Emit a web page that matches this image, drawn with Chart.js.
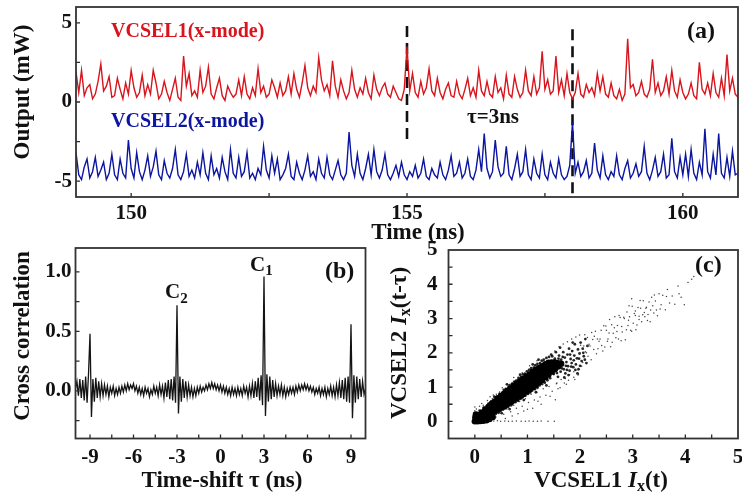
<!DOCTYPE html>
<html>
<head>
<meta charset="utf-8">
<script src="https://cdn.jsdelivr.net/npm/chart.js@4.4.1/dist/chart.umd.min.js"></script>
<style>
  html, body { margin: 0; padding: 0; background: #fff; }
  #fig { position: relative; width: 742px; height: 500px; overflow: hidden; background: #fff; }
  #fig canvas { position: absolute; }
</style>
</head>
<body>
<div id="fig">
  <canvas id="panelA" width="742" height="245" style="left:0px;top:0px"></canvas>
  <canvas id="panelB" width="380" height="260" style="left:0px;top:240px"></canvas>
  <canvas id="panelC" width="362" height="264" style="left:380px;top:236px"></canvas>
</div>
<script>
// ---------- (a) output time series, sampled every 0.05 ns from 149 ns ----------
const T_START = 149;
const T_STEP = 0.05;
const vcsel1 = [
  1.9,0.6,2.0,0.4,0.9,1.1,0.2,0.5,1.3,2.4,0.7,1.0,1.6,0.3,0.4,1.5,0.8,0.2,1.2,0.5,
  2.0,0.9,0.3,0.6,1.7,0.4,1.1,0.5,2.0,1.2,0.2,0.5,1.3,0.6,0.1,0.8,1.5,0.3,0.1,2.9,
  1.0,1.8,0.4,0.7,0.3,2.0,0.6,1.0,2.2,0.5,0.2,0.9,1.5,0.4,0.1,1.0,0.6,0.3,0.5,1.4,
  0.4,1.6,0.5,0.2,0.9,0.4,2.1,0.6,1.0,0.3,0.5,1.4,0.9,0.3,1.2,0.4,0.7,1.6,0.5,1.8,
  0.8,0.3,1.2,2.3,0.9,0.4,1.0,0.6,2.8,1.4,0.7,1.1,0.4,2.6,1.0,0.3,1.4,0.7,0.2,0.6,
  2.0,0.8,0.3,0.9,0.5,1.5,0.6,0.2,1.7,0.8,0.4,0.9,1.2,0.5,0.3,1.0,0.6,0.2,0.1,0.8,
  3.5,0.7,1.8,0.6,0.3,1.3,0.5,0.9,2.1,0.7,0.4,1.5,0.6,0.2,0.8,1.2,0.4,0.3,1.3,0.5,
  0.2,0.8,1.5,0.4,0.9,0.3,2.0,0.7,0.4,1.3,0.5,0.3,1.6,0.6,0.9,0.2,1.7,0.5,0.3,1.6,
  0.8,0.3,0.6,2.0,0.7,0.4,1.6,0.5,0.9,3.2,0.8,1.4,0.5,0.7,2.9,0.6,1.4,0.4,1.8,0.6,
  0.2,0.6,1.8,0.5,0.3,1.1,0.6,0.9,0.4,1.8,0.7,1.6,0.5,0.3,1.2,0.4,0.2,0.8,0.1,0.5,
  4.0,0.9,1.1,0.4,0.6,1.3,0.5,0.3,0.8,2.7,0.6,1.2,0.4,0.7,1.6,0.5,2.0,0.7,0.3,1.4,
  0.6,0.2,0.5,1.2,0.4,0.2,2.5,0.8,0.5,1.2,0.4,1.8,0.6,0.3,1.5,0.4,3.0,0.7,1.5,0.5,
  0.3
];
// VCSEL2 trace is displayed offset by -5 mW
const vcsel2 = [
  -3.2,-4.6,-4.9,-4.1,-3.6,-4.8,-4.4,-3.5,-4.7,-4.3,-3.8,-4.9,-4.5,-3.3,-4.6,-4.9,-3.6,-4.5,-4.8,-2.4,
  -4.2,-4.8,-3.2,-4.4,-4.9,-4.3,-3.4,-4.7,-4.1,-3.1,-4.6,-4.9,-3.7,-4.5,-4.8,-4.2,-3.0,-4.6,-4.9,-4.4,
  -3.3,-4.7,-4.3,-4.8,-3.8,-4.6,-3.2,-4.5,-4.9,-3.4,-4.6,-4.2,-4.8,-3.5,-4.4,-4.9,-3.0,-4.5,-4.8,-3.5,
  -4.7,-4.4,-3.2,-4.8,-4.5,-4.9,-4.2,-4.6,-2.8,-4.3,-4.8,-3.4,-4.5,-3.6,-4.9,-4.6,-4.2,-3.3,-4.7,-4.9,
  -3.8,-4.5,-4.9,-4.3,-3.4,-4.7,-4.4,-4.9,-3.6,-4.5,-4.8,-3.5,-4.6,-4.9,-4.3,-3.7,-4.6,-4.9,-4.5,-1.9,
  -4.0,-4.7,-3.3,-4.5,-4.9,-4.2,-3.3,-4.6,-3.0,-4.4,-4.8,-4.3,-3.3,-4.6,-4.9,-4.5,-4.0,-4.7,-3.8,-4.6,
  -4.9,-4.4,-4.7,-4.0,-4.8,-4.5,-3.6,-4.7,-4.9,-4.2,-4.6,-4.8,-3.8,-4.6,-4.9,-4.3,-3.4,-4.7,-4.5,-3.8,
  -4.8,-4.5,-3.6,-4.7,-4.9,-4.3,-3.0,-4.4,-2.0,-4.2,-4.8,-4.4,-2.4,-4.1,-4.7,-4.5,-2.8,-4.6,-4.9,-4.2,
  -3.3,-4.7,-4.4,-3.0,-4.6,-4.9,-3.6,-4.5,-4.8,-3.3,-4.6,-4.9,-3.8,-4.5,-4.8,-3.6,-4.6,-4.9,-4.7,-4.0,
  -1.3,-4.5,-3.8,-4.7,-4.4,-3.7,-4.8,-4.5,-2.6,-4.3,-4.8,-3.4,-4.6,-4.9,-4.4,-4.7,-3.4,-4.6,-4.9,-4.2,
  -3.7,-4.8,-4.5,-3.9,-4.7,-4.4,-2.8,-4.5,-4.9,-4.3,-3.5,-4.7,-4.4,-3.3,-4.8,-4.6,-2.3,-4.4,-4.8,-3.5,
  -4.6,-3.3,-4.7,-3.0,-4.5,-4.9,-3.8,-4.6,-1.7,-4.4,-4.8,-3.3,-4.6,-2.0,-4.5,-4.8,-3.5,-4.7,-3.1,-4.6,
  -4.5
];
const delayMarks = [155, 158];          // the two instants separated by tau = 3 ns
const timeTicks = [150, 152.5, 155, 157.5, 160];
const timeTickLabels = ['150', '', '155', '', '160'];
const outputTicks = [-5, -2.5, 0, 2.5, 5];
const outputTickLabels = ['-5', '', '0', '', '5'];

// ---------- (b) cross correlation vs time shift, every 0.1 ns from -10 ns ----------
const TAU_START = -10;
const TAU_STEP = 0.1;
const crossCorr = [
  0.02,0.08,-0.04,0.10,-0.06,0.09,-0.08,0.12,-0.10,0.15,
  0.48,-0.22,0.10,-0.09,0.11,-0.06,0.08,-0.05,0.06,-0.04,
  0.05,-0.03,0.04,-0.05,0.03,-0.02,0.04,-0.04,0.02,-0.03,
  0.03,-0.02,0.04,-0.01,0.05,0.00,0.06,0.01,0.05,0.02,
  0.06,0.00,0.04,-0.02,0.03,-0.03,0.02,-0.04,0.03,-0.02,
  0.02,-0.05,0.01,-0.03,0.04,-0.02,0.03,-0.04,0.05,-0.03,
  0.04,-0.06,0.07,-0.05,0.09,-0.07,0.10,-0.08,0.12,-0.10,
  0.72,-0.19,0.12,-0.09,0.10,-0.06,0.08,-0.05,0.05,-0.04,
  0.03,-0.05,0.02,-0.04,0.03,-0.02,0.04,-0.01,0.03,0.00,
  0.05,0.01,0.06,0.02,0.07,0.02,0.06,0.01,0.05,0.00,
  0.05,-0.01,0.04,-0.02,0.03,-0.03,0.02,-0.04,0.03,-0.03,
  0.02,-0.04,0.03,-0.03,0.02,-0.04,0.04,-0.02,0.03,-0.05,
  0.04,-0.04,0.06,-0.06,0.08,-0.05,0.11,-0.08,0.13,-0.12,
  0.96,-0.21,0.14,-0.09,0.12,-0.07,0.09,-0.05,0.06,-0.04,
  0.04,-0.03,0.05,-0.04,0.03,-0.05,0.02,-0.03,0.03,-0.02,
  0.03,-0.03,0.04,-0.01,0.05,0.00,0.05,0.01,0.06,0.01,
  0.05,0.00,0.04,-0.01,0.03,-0.03,0.02,-0.02,0.03,-0.04,
  0.02,-0.03,0.03,-0.05,0.02,-0.03,0.04,-0.04,0.03,-0.05,
  0.05,-0.04,0.07,-0.06,0.09,-0.07,0.11,-0.09,0.12,-0.10,
  0.56,-0.23,0.13,-0.10,0.12,-0.07,0.10,-0.05,0.08,-0.03,
  0.02
];
const shiftTicks = [-9, -7.5, -6, -4.5, -3, -1.5, 0, 1.5, 3, 4.5, 6, 7.5, 9];
const shiftTickLabels = ['-9', '', '-6', '', '-3', '', '0', '', '3', '', '6', '', '9'];
const corrTicks = [-0.25, 0, 0.25, 0.5, 0.75, 1.0];
const corrTickLabels = ['', '0.0', '', '0.5', '', '1.0'];

// ---------- (c) VCSEL1 Ix(t) vs VCSEL2 Ix(t - tau) ----------
// densest part of the cloud
const scatterCore = [
  [0.00,0.00],[0.05,0.00],[0.10,0.01],[0.16,0.02],[0.22,0.03],[0.28,0.07],[0.34,0.13],[0.01,0.12],[0.02,0.20],
  [0.02,0.02],[0.02,0.05],[0.02,0.08],
  [0.08,0.06],[0.08,0.09],[0.08,0.12],[0.08,0.15],[0.08,0.18],
  [0.14,0.10],[0.14,0.14],[0.14,0.18],[0.14,0.22],[0.14,0.26],
  [0.20,0.15],[0.20,0.20],[0.20,0.25],[0.20,0.30],[0.20,0.35],
  [0.26,0.20],[0.26,0.25],[0.26,0.31],[0.26,0.37],[0.26,0.42],
  [0.32,0.25],[0.32,0.32],[0.32,0.38],[0.32,0.45],[0.32,0.51],
  [0.38,0.30],[0.38,0.37],[0.38,0.44],[0.38,0.51],[0.38,0.58],
  [0.44,0.35],[0.44,0.43],[0.44,0.51],[0.44,0.59],[0.44,0.67],
  [0.50,0.40],[0.50,0.49],[0.50,0.57],[0.50,0.66],[0.50,0.74],
  [0.56,0.45],[0.56,0.54],[0.56,0.63],[0.56,0.72],[0.56,0.81],
  [0.62,0.51],[0.62,0.61],[0.62,0.70],[0.62,0.80],[0.62,0.89],
  [0.68,0.56],[0.68,0.66],[0.68,0.76],[0.68,0.86],[0.68,0.96],
  [0.74,0.62],[0.74,0.73],[0.74,0.83],[0.74,0.94],[0.74,1.04],
  [0.80,0.68],[0.80,0.79],[0.80,0.89],[0.80,1.00],[0.80,1.10],
  [0.86,0.74],[0.86,0.85],[0.86,0.96],[0.86,1.07],[0.86,1.18],
  [0.92,0.80],[0.92,0.91],[0.92,1.02],[0.92,1.13],[0.92,1.24],
  [0.98,0.87],[0.98,0.98],[0.98,1.09],[0.98,1.20],[0.98,1.31],
  [1.04,0.93],[1.04,1.04],[1.04,1.15],[1.04,1.26],[1.04,1.37],
  [1.10,1.00],[1.10,1.11],[1.10,1.22],[1.10,1.33],[1.10,1.44],
  [1.16,1.06],[1.16,1.17],[1.16,1.28],[1.16,1.39],[1.16,1.50],
  [1.22,1.14],[1.22,1.25],[1.22,1.35],[1.22,1.46],[1.22,1.56],
  [1.28,1.21],[1.28,1.31],[1.28,1.41],[1.28,1.51],[1.28,1.61],
  [1.34,1.29],[1.34,1.39],[1.34,1.48],[1.34,1.58],[1.34,1.67],
  [1.40,1.37],[1.40,1.46],[1.40,1.54],[1.40,1.63],[1.40,1.71],
  [1.46,1.45],[1.46,1.55],[1.46,1.64],[1.46,1.72],
  [1.52,1.52],[1.52,1.62],[1.52,1.72],
  [1.58,1.60],[1.58,1.70],
  [1.64,1.68]
];
// fringe of the dense band and its continuation up to about 2
const scatterMid = [
  [0.04,0.24],[0.09,0.31],[0.13,0.29],[0.17,0.40],[0.23,0.45],[0.26,0.52],[0.31,0.58],[0.35,0.60],
  [0.39,0.69],[0.43,0.73],[0.47,0.80],[0.52,0.83],[0.55,0.92],[0.59,0.95],[0.64,0.99],[0.66,1.06],
  [0.71,1.10],[0.75,1.16],[0.79,1.19],[0.83,1.27],[0.88,1.30],[0.91,1.37],[0.95,1.39],[0.99,1.46],
  [1.03,1.50],[1.07,1.55],[1.12,1.57],[1.15,1.64],[1.19,1.68],[1.24,1.70],[1.27,1.77],[1.31,1.80],
  [1.36,1.85],[1.41,1.88],[1.45,1.95],[0.61,1.08],[0.86,1.36],[1.10,1.66],[0.37,0.72],[1.21,1.80],
  [0.18,0.05],[0.24,0.08],[0.29,0.13],[0.34,0.16],[0.40,0.22],[0.45,0.25],[0.49,0.31],[0.54,0.35],
  [0.58,0.38],[0.63,0.42],[0.69,0.47],[0.72,0.53],[0.77,0.56],[0.82,0.60],[0.87,0.66],[0.91,0.70],
  [0.96,0.75],[1.01,0.80],[1.05,0.84],[1.09,0.90],[1.14,0.94],[1.19,0.98],[1.23,1.05],[1.28,1.09],
  [1.33,1.13],[1.38,1.20],[1.43,1.26],[0.66,0.36],[0.93,0.62],[1.16,0.85],[1.36,1.05],[0.51,0.24],
  [1.44,1.45],[1.46,1.72],[1.48,1.58],[1.50,1.38],[1.52,1.83],[1.53,1.62],[1.55,1.50],[1.57,1.74],
  [1.58,1.30],[1.60,1.92],[1.61,1.58],[1.63,1.45],[1.64,1.80],[1.66,1.67],[1.68,2.02],[1.69,1.52],
  [1.71,1.86],[1.72,1.40],[1.74,1.73],[1.76,1.95],[1.77,1.61],[1.79,2.12],[1.80,1.48],[1.82,1.82],
  [1.84,1.70],[1.85,2.05],[1.87,1.58],[1.89,1.92],[1.90,2.25],[1.92,1.66],[1.94,1.84],[1.96,2.10],
  [1.97,1.52],[1.99,1.98],[2.01,2.30],[2.03,1.76],[2.05,2.12],[2.07,1.90],[2.10,2.40],[2.12,1.70],
  [1.47,1.90],[1.54,2.02],[1.62,2.15],[1.70,1.28],[1.78,1.35],[1.86,2.30],[1.95,1.40],[2.14,2.20],
  [1.49,1.49],[1.51,1.77],[1.56,1.41],[1.59,1.83],[1.65,1.55],[1.67,1.88],[1.73,1.62],[1.75,1.50],
  [1.81,1.95],[1.83,1.60],[1.88,1.78],[1.91,1.50],[1.98,1.83],[2.00,1.62],[2.06,2.00],[2.09,1.80]
];
// thin outskirts and the high-intensity tail
const scatterSparse = [
  [2.03,1.61],[2.07,2.20],[2.10,2.03],[2.14,2.45],[2.15,1.90],[2.19,2.20],[2.22,2.59],[2.26,2.10],
  [2.27,2.48],[2.31,1.97],[2.33,2.40],[2.36,2.34],[2.40,2.66],[2.41,2.21],[2.45,2.79],[2.47,2.17],
  [2.50,2.66],[2.53,2.40],[2.55,2.58],[2.58,2.18],[2.60,2.82],[2.63,2.57],[2.66,3.05],[2.68,2.44],
  [2.71,2.80],[2.73,2.40],[2.76,3.03],[2.79,2.77],[2.80,2.61],[2.84,3.00],[2.86,2.38],[2.89,3.19],
  [2.91,2.80],[2.94,3.05],[2.96,2.66],[2.99,3.36],[3.01,2.86],[3.05,3.09],[3.06,2.67],[3.10,3.32],
  [3.12,3.07],[3.15,3.30],[3.17,2.91],[3.20,3.52],[3.23,3.05],[3.25,3.30],[3.28,2.94],[3.31,3.48],
  [3.34,3.25],[3.36,3.62],[3.40,3.16],[3.43,3.51],[3.47,3.08],[3.50,3.72],[3.54,3.40],[3.57,3.68],
  [3.62,3.26],[3.66,3.85],[3.70,3.45],[3.75,3.66],[3.80,3.42],[3.86,3.95],[3.92,3.62],[3.98,3.40],
  [4.05,4.05],[4.12,4.15],[4.16,4.23],[3.88,3.72],
  [2.01,2.22],[2.05,1.72],[2.09,2.53],[2.12,2.00],[2.17,2.25],[2.21,1.80],[2.24,2.39],[2.29,2.63],
  [2.34,2.12],[2.38,2.40],[2.43,2.05],[2.49,2.78],[2.52,2.34],[2.56,2.97],[2.61,2.31],[2.65,2.73],
  [2.70,2.62],[2.74,3.09],[2.78,2.35],[2.83,3.04],[2.88,2.67],[2.93,3.37],[2.98,2.63],[3.03,3.15],
  [3.08,2.81],[3.14,3.53],[3.19,3.11],[3.26,3.33],[3.33,2.91],[3.41,3.69],[3.52,3.28],[3.64,3.64],
  [2.98,3.58],[3.22,3.18],[3.12,2.97],[3.29,3.12],[3.05,3.22],[3.38,3.37],[2.92,2.95],[3.45,3.25],
  [1.52,2.05],[1.56,1.12],[1.60,2.18],[1.64,1.22],[1.68,2.26],[1.72,1.25],[1.76,2.32],[1.80,1.36],
  [1.84,2.40],[1.88,1.45],[1.92,2.46],[1.96,1.35],[1.99,2.52],[1.58,0.95],[1.74,1.08],[1.90,1.22],
  [0.31,0.09],[0.40,0.13],[0.47,0.26],[0.55,0.21],[0.61,0.36],[0.68,0.28],[0.74,0.47],[0.79,0.38],
  [0.85,0.58],[0.90,0.44],[0.96,0.66],[1.02,0.55],[1.07,0.79],[1.13,0.62],[1.18,0.85],[1.24,0.71],
  [1.30,0.95],[1.35,0.76],[1.41,1.02],[1.47,0.88],[1.53,0.63],[1.26,0.50],[1.10,0.38],[0.93,0.30],
  [0.71,0.16],[1.00,0.35],[1.20,0.59],[0.58,0.08],[1.43,0.73],[0.82,0.22],[1.55,1.10],[1.62,0.98],
  [1.70,1.12],[1.78,1.20],[1.88,1.29],[1.97,1.38],
  [0.21,0.00],[0.36,0.01],[0.49,0.00],[0.64,0.00],[0.79,0.01],[0.96,0.00],[1.11,0.00],[1.26,0.01],
  [1.39,0.00],[1.51,0.00],[0.43,0.02],[0.71,0.00],[1.03,0.01],[1.19,0.00],[0.28,0.01],[0.57,0.01],
  [0.88,0.00],
  [0.03,0.36],[0.09,0.44],[0.16,0.47],[0.24,0.61],[0.33,0.66],[0.41,0.79],[0.47,0.86],[0.56,0.92],
  [0.63,1.04],[0.69,1.09],[0.78,1.20],[0.84,1.26],[0.93,1.33],[1.01,1.45],[1.06,1.52],[1.14,1.61],
  [1.23,1.68],[1.29,1.76],[1.18,1.77],[0.29,0.72],[0.52,0.98],[0.74,1.28],[1.04,1.62],[0.13,0.52],
  [0.00,0.31],[0.00,0.42],[0.35,0.77],[0.90,1.42]
];
const intensityTicks = [0, 0.5, 1, 1.5, 2, 2.5, 3, 3.5, 4, 4.5, 5];
const intensityTickLabels = ['0', '', '1', '', '2', '', '3', '', '4', '', '5'];

// ---------- shared drawing helpers ----------
const SERIF = "'Liberation Serif', 'Times New Roman', serif";
const RED = '#d8141c';
const BLUE = '#0c159f';
const INK = '#111111';

Chart.defaults.font.family = SERIF;
Chart.defaults.color = INK;

function linearAxis(min, max, ticks, labels, size, horizontal, pad) {
  return {
    type: 'linear',
    position: horizontal ? 'bottom' : 'left',
    min: min,
    max: max,
    grid: { display: false, drawTicks: false },
    border: { display: false },
    afterBuildTicks: scale => { scale.ticks = ticks.map(v => ({ value: v })); },
    afterFit: scale => {
      if (horizontal) scale.height = size; else scale.width = size;
      scale.paddingLeft = 0; scale.paddingRight = 0;
      scale.paddingTop = 0; scale.paddingBottom = 0;
    },
    ticks: {
      autoSkip: false,
      maxRotation: 0,
      padding: pad,
      color: INK,
      font: { family: SERIF, size: 21, weight: 'bold' },
      callback: (value, index) => labels[index]
    }
  };
}

// box around the plot area plus short inward tick marks
function frameWithTicks(xTicks, yTicks, len) {
  return {
    id: 'frameWithTicks',
    afterDatasetsDraw(chart) {
      const ctx = chart.ctx;
      const a = chart.chartArea;
      const sx = chart.scales.x, sy = chart.scales.y;
      ctx.save();
      ctx.strokeStyle = '#2a2a2a';
      ctx.lineWidth = 1.3;
      ctx.beginPath();
      xTicks.forEach(v => {
        const p = sx.getPixelForValue(v);
        ctx.moveTo(p, a.bottom);
        ctx.lineTo(p, a.bottom - len);
      });
      yTicks.forEach(v => {
        const p = sy.getPixelForValue(v);
        ctx.moveTo(a.left, p);
        ctx.lineTo(a.left + len, p);
      });
      ctx.stroke();
      ctx.strokeStyle = '#333333';
      ctx.lineWidth = 1.8;
      ctx.strokeRect(a.left, a.top, a.right - a.left, a.bottom - a.top);
      ctx.restore();
    }
  };
}

// draws a run of text pieces (for subscripts / italics), optionally rotated
function drawRich(ctx, item, ox, oy) {
  ctx.save();
  ctx.fillStyle = item.color || INK;
  ctx.textBaseline = 'middle';
  ctx.textAlign = 'left';
  let total = 0;
  const pieces = item.parts.map(p => {
    const font = (p[2] || 'bold') + ' ' + p[1] + 'px ' + SERIF;
    ctx.font = font;
    const w = ctx.measureText(p[0]).width;
    total += w;
    return { text: p[0], font: font, w: w, dy: p[3] || 0 };
  });
  ctx.translate(item.x - ox, item.y - oy);
  if (item.rotate) ctx.rotate(-Math.PI / 2);
  let x = item.align === 'left' ? 0 : -total / 2;
  pieces.forEach(p => {
    ctx.font = p.font;
    ctx.fillText(p.text, x, p.dy);
    x += p.w;
  });
  ctx.restore();
}

function panelText(items, ox, oy) {
  return {
    id: 'panelText',
    afterDraw(chart) { items.forEach(it => drawRich(chart.ctx, it, ox, oy)); }
  };
}

const baseOptions = {
  responsive: false,
  animation: false,
  devicePixelRatio: 1,
  events: [],
  plugins: { legend: { display: false }, tooltip: { enabled: false } }
};

// ---------- panel (a) ----------
const timeGrid = vcsel1.map((_, i) => +(T_START + i * T_STEP).toFixed(2));

new Chart(document.getElementById('panelA'), {
  type: 'line',
  data: {
    datasets: [
      { data: timeGrid.map((t, i) => ({ x: t, y: vcsel1[i] })), borderColor: RED, borderWidth: 1.4, pointRadius: 0, tension: 0 },
      { data: timeGrid.map((t, i) => ({ x: t, y: vcsel2[i] })), borderColor: BLUE, borderWidth: 1.4, pointRadius: 0, tension: 0 },
      { data: [{ x: delayMarks[0], y: 4.8 }, { x: delayMarks[0], y: -2.5 }], borderColor: '#111', borderWidth: 2.6, borderDash: [11, 6], pointRadius: 0 },
      { data: [{ x: delayMarks[1], y: 4.6 }, { x: delayMarks[1], y: -6 }], borderColor: '#111', borderWidth: 2.6, borderDash: [11, 6], pointRadius: 0 }
    ]
  },
  options: Object.assign({}, baseOptions, {
    layout: { padding: { top: 7, right: 4, left: 0, bottom: 0 } },
    scales: {
      x: linearAxis(149, 161, timeTicks, timeTickLabels, 48, true, 4),
      y: linearAxis(-6, 6, outputTicks, outputTickLabels, 76, false, 4)
    }
  }),
  plugins: [
    frameWithTicks(timeTicks, outputTicks, 4),
    panelText([
      { parts: [['Output (mW)', 23]], x: 23, y: 92, rotate: true },
      { parts: [['Time (ns)', 23]], x: 418, y: 233 },
      { parts: [['VCSEL1(x-mode)', 20]], x: 111, y: 32, align: 'left', color: RED },
      { parts: [['VCSEL2(x-mode)', 20]], x: 111, y: 122, align: 'left', color: BLUE },
      { parts: [['\u03C4=3ns', 21]], x: 467, y: 118, align: 'left' },
      { parts: [['(a)', 24]], x: 687, y: 32, align: 'left' }
    ], 0, 0)
  ]
});

// ---------- panel (b) ----------
const tauGrid = crossCorr.map((_, i) => +(TAU_START + i * TAU_STEP).toFixed(1));

new Chart(document.getElementById('panelB'), {
  type: 'line',
  data: {
    datasets: [
      { data: tauGrid.map((t, i) => ({ x: t, y: crossCorr[i] })), borderColor: '#141414', borderWidth: 1.3, pointRadius: 0, tension: 0 }
    ]
  },
  options: Object.assign({}, baseOptions, {
    layout: { padding: { top: 8, right: 14.5, left: 0, bottom: 0 } },
    scales: {
      x: linearAxis(-10, 10, shiftTicks, shiftTickLabels, 61.5, true, 6),
      y: linearAxis(-0.4, 1.2, corrTicks, corrTickLabels, 75.5, false, 4)
    }
  }),
  plugins: [
    frameWithTicks(shiftTicks, corrTicks, 4),
    panelText([
      { parts: [['Cross correlation', 23]], x: 23, y: 336, rotate: true },
      { parts: [['Time-shift \u03C4 (ns)', 23]], x: 222, y: 481 },
      { parts: [['C', 21], ['2', 15, 'bold', 6]], x: 165, y: 293, align: 'left' },
      { parts: [['C', 21], ['1', 15, 'bold', 6]], x: 250, y: 265.5, align: 'left' },
      { parts: [['(b)', 24]], x: 325, y: 272, align: 'left' }
    ], 0, 240)
  ]
});

// ---------- panel (c) ----------
const toPoints = arr => arr.map(p => ({ x: p[0], y: p[1] }));

new Chart(document.getElementById('panelC'), {
  type: 'scatter',
  data: {
    datasets: [
      { data: toPoints(scatterSparse), pointRadius: 0.75, pointBackgroundColor: 'rgba(20,20,20,0.8)', pointBorderWidth: 0 },
      { data: toPoints(scatterMid), pointRadius: 1.4, pointBackgroundColor: 'rgba(0,0,0,0.85)', pointBorderWidth: 0 },
      { data: toPoints(scatterCore), pointRadius: 3.2, pointBackgroundColor: '#000', pointBorderWidth: 0 }
    ]
  },
  options: Object.assign({}, baseOptions, {
    layout: { padding: { top: 14, right: 4, left: 0, bottom: 0 } },
    scales: {
      x: linearAxis(-0.5, 5, intensityTicks, intensityTickLabels, 61.5, true, 6),
      y: linearAxis(-0.5, 5, intensityTicks, intensityTickLabels, 68.5, false, 11)
    }
  }),
  plugins: [
    frameWithTicks(intensityTicks.slice(0, 10), intensityTicks.slice(0, 10), 4),
    panelText([
      { parts: [['VCSEL2 ', 23], ['I', 23, 'italic bold'], ['x', 16, 'bold', 6], ['(t-\u03C4)', 23]], x: 400, y: 343, rotate: true },
      { parts: [['VCSEL1 ', 23], ['I', 23, 'italic bold'], ['x', 16, 'bold', 6], ['(t)', 23]], x: 601, y: 481 },
      { parts: [['(c)', 24]], x: 695, y: 266, align: 'left' }
    ], 380, 236)
  ]
});
</script>
</body>
</html>
